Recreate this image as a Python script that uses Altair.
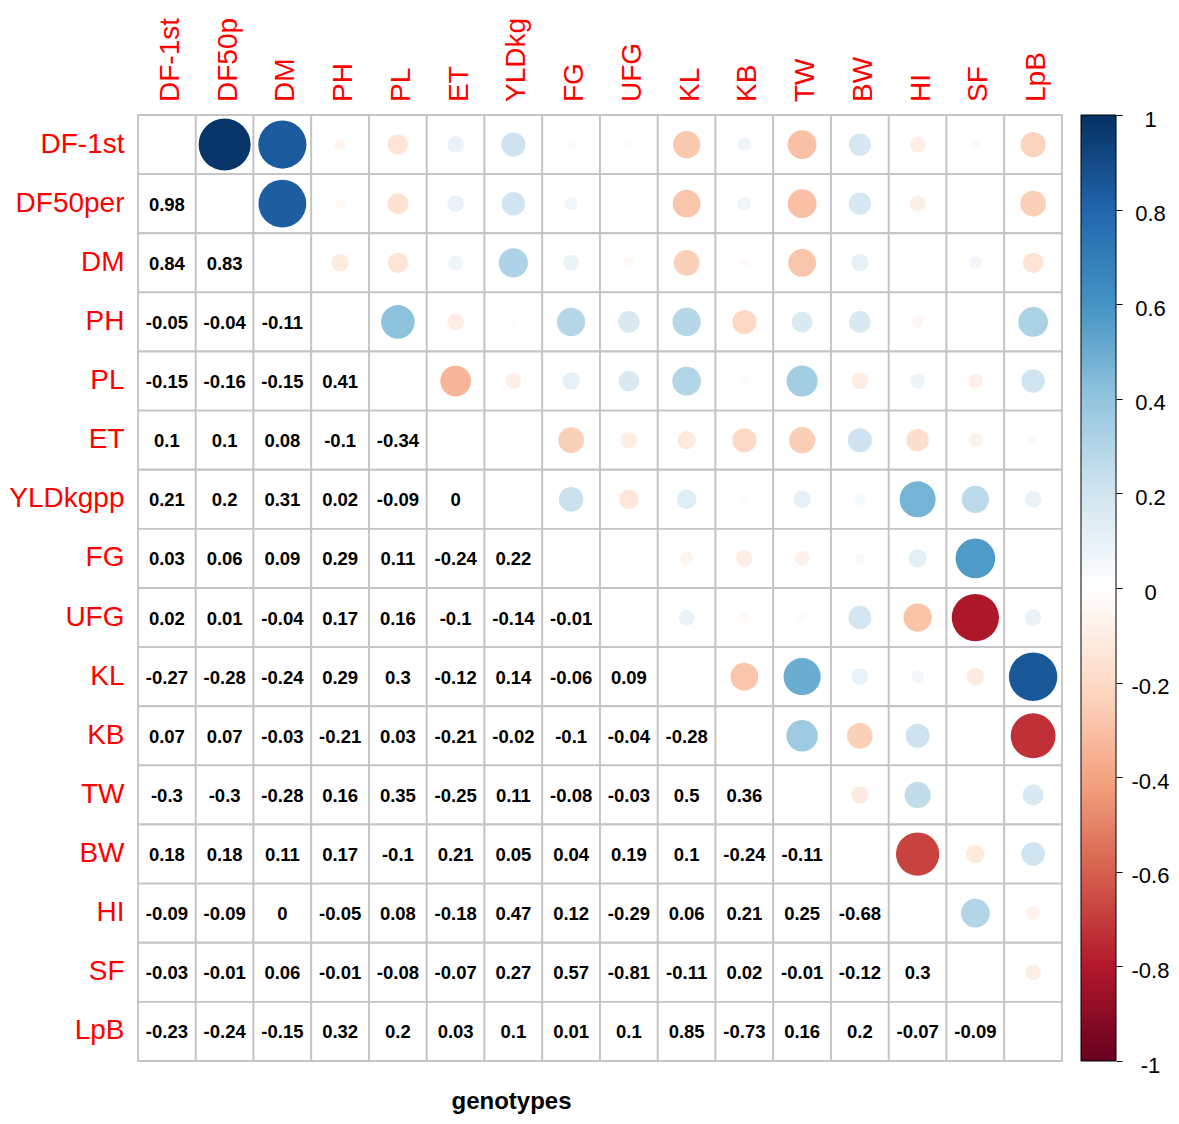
import altair as alt
import pandas as pd

traits = ["DF-1st", "DF50per", "DM", "PH", "PL", "ET", "YLDkgpp", "FG",
          "UFG", "KL", "KB", "TW", "BW", "HI", "SF", "LpB"]

# lower-triangle correlation coefficients (row trait vs. earlier traits)
r_DF50per = [0.98]
r_DM = [0.84, 0.83]
r_PH = [-0.05, -0.04, -0.11]
r_PL = [-0.15, -0.16, -0.15, 0.41]
r_ET = [0.1, 0.1, 0.08, -0.1, -0.34]
r_YLDkgpp = [0.21, 0.2, 0.31, 0.02, -0.09, 0]
r_FG = [0.03, 0.06, 0.09, 0.29, 0.11, -0.24, 0.22]
r_UFG = [0.02, 0.01, -0.04, 0.17, 0.16, -0.1, -0.14, -0.01]
r_KL = [-0.27, -0.28, -0.24, 0.29, 0.3, -0.12, 0.14, -0.06, 0.09]
r_KB = [0.07, 0.07, -0.03, -0.21, 0.03, -0.21, -0.02, -0.1, -0.04, -0.28]
r_TW = [-0.3, -0.3, -0.28, 0.16, 0.35, -0.25, 0.11, -0.08, -0.03, 0.5, 0.36]
r_BW = [0.18, 0.18, 0.11, 0.17, -0.1, 0.21, 0.05, 0.04, 0.19, 0.1, -0.24, -0.11]
r_HI = [-0.09, -0.09, 0, -0.05, 0.08, -0.18, 0.47, 0.12, -0.29, 0.06, 0.21, 0.25, -0.68]
r_SF = [-0.03, -0.01, 0.06, -0.01, -0.08, -0.07, 0.27, 0.57, -0.81, -0.11, 0.02, -0.01, -0.12, 0.3]
r_LpB = [-0.23, -0.24, -0.15, 0.32, 0.2, 0.03, 0.1, 0.01, 0.1, 0.85, -0.73, 0.16, 0.2, -0.07, -0.09]

lower_rows = [[], r_DF50per, r_DM, r_PH, r_PL, r_ET, r_YLDkgpp, r_FG, r_UFG,
              r_KL, r_KB, r_TW, r_BW, r_HI, r_SF, r_LpB]

colour_stops = [-1, -0.8, -0.6, -0.4, -0.2, 0, 0.2, 0.4, 0.6, 0.8, 1]
colour_range = ["#67001F", "#B2182B", "#D6604D", "#F4A582", "#FDDBC7", "#FFFFFF",
                "#D1E5F0", "#92C5DE", "#4393C3", "#2166AC", "#053061"]
bar_ticks = [-1, -0.8, -0.6, -0.4, -0.2, 0, 0.2, 0.4, 0.6, 0.8, 1]

records = []
for i, rt in enumerate(traits):
    for j, ct in enumerate(traits):
        if j < i:
            v, kind = lower_rows[i][j], "lower"
        elif j > i:
            v, kind = lower_rows[j][i], "upper"
        else:
            v, kind = None, "diag"
        records.append({"row": rt, "col": ct, "r": v, "kind": kind,
                        "label": (f"{v:g}" if v is not None else "")})
df = pd.DataFrame(records)

FONT = "Liberation Sans"

X = alt.X("col:N", sort=traits,
          scale=alt.Scale(type="band", paddingInner=0, paddingOuter=0),
          axis=alt.Axis(orient="bottom", labels=False, ticks=False, domain=False,
                        grid=False, title="genotypes", titleFont=FONT,
                        titleFontSize=24, titleFontWeight="bold", titleColor="black",
                        titleX=373, titleY=47, titleBaseline="alphabetic",
                        titleAlign="center"))
Y = alt.Y("row:N", sort=traits,
          scale=alt.Scale(type="band", paddingInner=0, paddingOuter=0),
          axis=alt.Axis(orient="left", ticks=False, domain=False, grid=False,
                        labelColor="#FF0000", labelFontSize=28, labelFont=FONT,
                        labelPadding=14, labelLimit=300, title=None))

base = alt.Chart(df).encode(x=X, y=Y)

cells = base.mark_rect(fill="white", stroke="#c4c4c4", strokeWidth=1.8)

circles = base.transform_filter("datum.kind == 'upper'").transform_calculate(
    absr="abs(datum.r)"
).mark_circle(opacity=1).encode(
    color=alt.Color("r:Q",
                    scale=alt.Scale(domain=colour_stops, range=colour_range,
                                    interpolate="rgb"),
                    legend=alt.Legend(orient="none", legendX=943, legendY=0,
                                      direction="vertical", gradientLength=946,
                                      gradientThickness=35,
                                      gradientStrokeColor="black",
                                      gradientStrokeWidth=1, title=None,
                                      labelExpr="''", padding=0)),
    size=alt.Size("absr:Q", scale=alt.Scale(domain=[0, 1], range=[0, 2760]),
                  legend=None),
)

numbers = base.transform_filter("datum.kind == 'lower'").mark_text(
    fontSize=18.5, fontWeight="bold", font=FONT, color="black", baseline="middle",
    dy=1
).encode(text="label:N")

col_labels = base.transform_filter("datum.row == 'DF-1st'").mark_text(
    angle=270, align="left", baseline="middle", fontSize=28, font=FONT,
    color="#FF0000", limit=90, ellipsis="\u200b", dy=4
).encode(text="col:N", y=alt.value(-13))

grid = alt.layer(cells, circles, numbers, col_labels)

bar_axis = alt.Chart(pd.DataFrame({"v": bar_ticks})).mark_point(opacity=0).encode(
    y=alt.Y("v:Q", scale=alt.Scale(domain=[-1, 1], nice=False, zero=False),
            axis=alt.Axis(orient="right", offset=54, values=bar_ticks, domain=False,
                          grid=False, tickColor="black", tickSize=6, tickWidth=1,
                          labelFontSize=22, labelFont=FONT, labelColor="black",
                          labelAlign="center", labelPadding=28, labelBaseline="middle",
                          labelOffset=4,
                          labelExpr="'' + (round(datum.value*10)/10)",
                          title=None))
)

chart = alt.layer(grid, bar_axis).resolve_scale(y="independent").properties(
    width=924, height=946,
    padding={"left": 130, "top": 107, "right": 109, "bottom": 54},
    autosize=alt.AutoSizeParams(type="none"),
    background="white",
).configure_view(stroke=None)

chart.save("out.html", embed_options={"renderer": "svg", "actions": False})
